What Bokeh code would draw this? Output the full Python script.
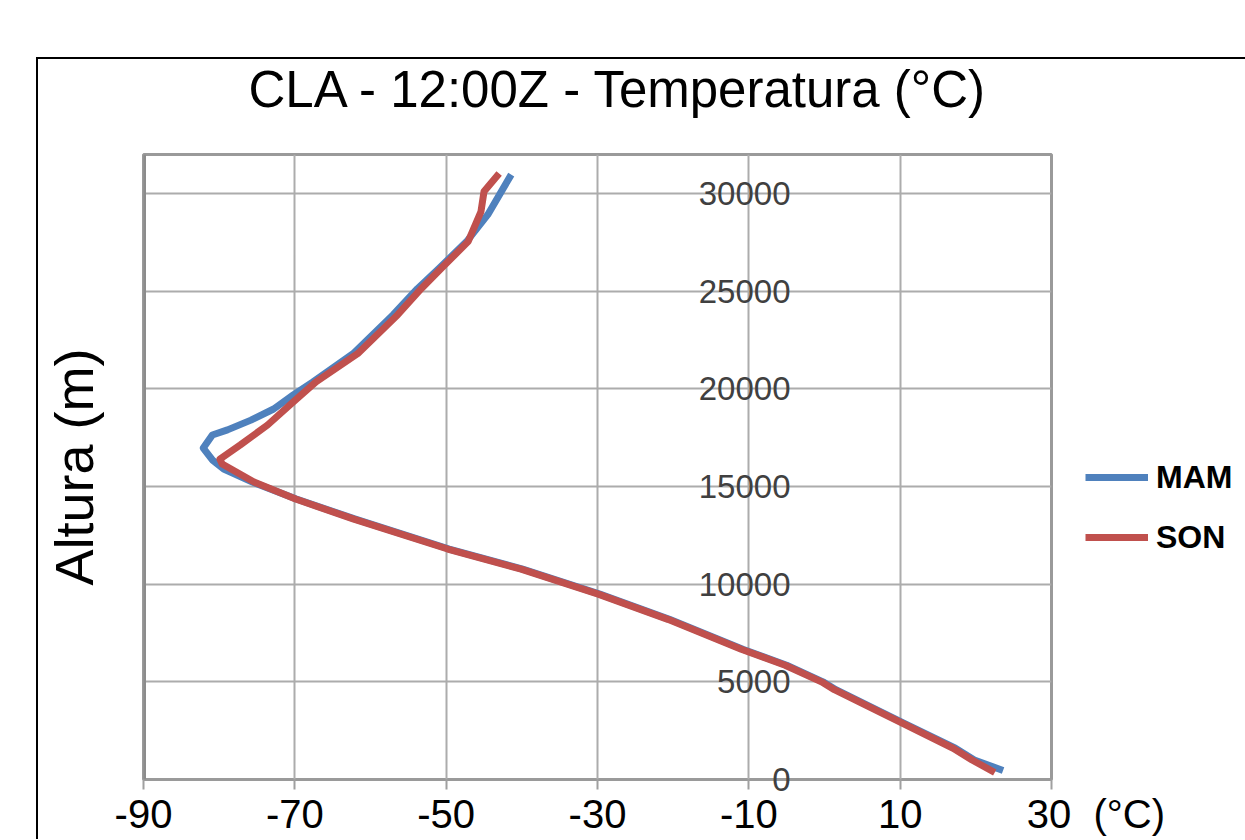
from bokeh.plotting import figure
from bokeh.models import Range1d, Legend, Span, FixedTicker, Title
from bokeh.embed import file_html
from bokeh.resources import INLINE

# ---- data (temperature in °C, height in m) ----
heights_mam = [460, 1000, 1600, 2900, 4600, 5000, 5850, 6670, 8200, 9490, 10770, 11800,
               13330, 14360, 15230, 15900, 16360, 16970, 17640, 17900, 18400, 18970, 19690,
               20360, 21800, 23800, 25130, 26150, 27540, 28920, 30970]
temps_mam = [23.6, 19.8, 17.3, 10.4, 1.5, -0.2, -5.0, -10.8, -20.5, -29.7, -39.9, -49.6,
             -62.0, -69.8, -75.6, -79.4, -80.9, -82.1, -80.9, -78.9, -75.8, -72.8, -70.2,
             -67.6, -62.3, -57.0, -53.8, -51.0, -47.3, -44.5, -41.4]

heights_son = [360, 1000, 1600, 2900, 4600, 5000, 5850, 6670, 8200, 9490, 10770, 11800,
               13330, 14360, 15230, 16150, 16400, 17130, 18150, 19330, 20360, 21800,
               23800, 25130, 26150, 27540, 29080, 30100, 31030]
temps_son = [22.5, 19.5, 17.0, 10.2, 1.3, -0.4, -5.2, -11.0, -20.7, -29.9, -40.1, -49.8,
             -62.2, -69.9, -75.4, -79.6, -79.9, -77.2, -73.6, -70.2, -67.2, -61.7,
             -56.4, -53.3, -50.7, -47.1, -45.4, -45.0, -43.0]

x_ticks = [-90, -70, -50, -30, -10, 10, 30]
y_ticks = [0, 5000, 10000, 15000, 20000, 25000, 30000]
series_names = ["MAM", "SON"]
title_text = "CLA - 12:00Z - Temperatura (°C)"
y_title = "Altura (m)"
x_unit = "(°C)"

FONT = "Liberation Sans"
NB = "\u00a0"

p = figure(title=None, frame_width=908, frame_height=625, output_backend="svg",
           toolbar_location=None,
           x_range=Range1d(-90, 30), y_range=Range1d(0, 32000),
           min_border_left=105, min_border_right=187, min_border_top=95, min_border_bottom=60,
           margin=(57, 0, 0, 36),
           styles={"border-left": "2px solid #000", "border-top": "2px solid #000"})

p.background_fill_color = "white"
p.border_fill_color = "white"
p.outline_line_color = "#9a9a9a"
p.outline_line_width = 3

# title (a thin spacer keeps it clear of the plot area)
p.add_layout(Title(text=" ", text_font_size="1px", standoff=32), "above")
p.add_layout(Title(text=title_text, align="left", offset=105, vertical_align="top",
                   text_font=FONT, text_font_size="51px", text_font_style="normal",
                   text_color="black", standoff=0), "above")

# x axis; the unit "(°C)" sits to the right of the last tick label
x_labels = {t: str(t) for t in x_ticks}
x_labels[x_ticks[-1]] = NB * 8 + str(x_ticks[-1]) + NB * 2 + x_unit
p.xaxis.ticker = FixedTicker(ticks=x_ticks)
p.xaxis.major_label_overrides = x_labels
p.xaxis.axis_line_color = None
p.xaxis.major_tick_line_color = "#a0a0a0"
p.xaxis.major_tick_line_width = 2
p.xaxis.major_tick_out = 10
p.xaxis.major_tick_in = 0
p.xaxis.minor_tick_line_color = None
p.xaxis.major_label_standoff = 2
p.xaxis.major_label_text_font = FONT
p.xaxis.major_label_text_font_size = "40px"
p.xaxis.major_label_text_color = "black"

# y tick labels sit next to the -10 line (axis crossing), shifted into the plot area
p.yaxis.ticker = FixedTicker(ticks=y_ticks)
p.yaxis.axis_line_color = None
p.yaxis.major_tick_line_color = None
p.yaxis.minor_tick_line_color = None
p.yaxis.major_label_standoff = -653
p.yaxis.major_label_text_font = FONT
p.yaxis.major_label_text_font_size = "33px"
p.yaxis.major_label_text_color = "#404040"

# y title on the left (spacer first, then the title)
p.add_layout(Title(text=" ", text_font_size="1px", standoff=35), "left")
p.add_layout(Title(text=y_title, align="center", vertical_align="top", text_font=FONT,
                   text_font_size="54px", text_font_style="normal", text_color="black",
                   standoff=0), "left")

p.xgrid.grid_line_color = "#acacac"
p.xgrid.grid_line_width = 2
p.ygrid.grid_line_color = "#acacac"
p.ygrid.grid_line_width = 2

p.add_layout(Span(location=-90, dimension="height", line_color="#8c8c8c", line_width=5))

r1 = p.line(temps_mam, heights_mam, line_color="#4F81BD", line_width=7, line_join="round")
r2 = p.line(temps_son, heights_son, line_color="#C0504D", line_width=7, line_join="round")

legend = Legend(items=[(series_names[0], [r1]), (series_names[1], [r2])],
                location=(34, 222), margin=0, padding=10,
                glyph_width=63, glyph_height=40, label_height=40, spacing=20,
                label_standoff=8, label_text_font=FONT, label_text_font_size="32px",
                label_text_font_style="bold", label_text_color="black",
                border_line_color=None, background_fill_alpha=0)
p.add_layout(legend, "right")

open("out.html", "w").write(file_html(p, INLINE))
